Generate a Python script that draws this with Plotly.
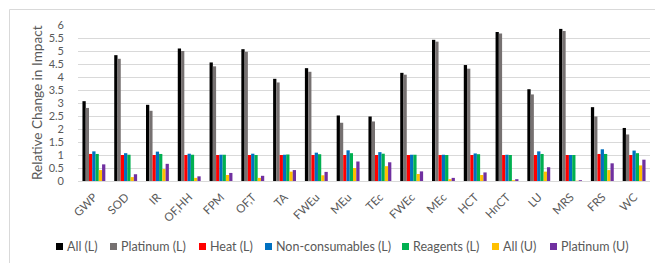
import plotly.graph_objects as go

categories = ["GWP", "SOD", "IR", "OF,HH", "FPM", "OF,T", "TA", "FWEu", "MEu", "TEc",
              "FWEc", "MEc", "HCT", "HnCT", "LU", "MRS", "FRS", "WC"]

all_L = [3.07, 4.84, 2.93, 5.10, 4.56, 5.07, 3.93, 4.34, 2.52, 2.48,
         4.16, 5.43, 4.46, 5.73, 3.53, 5.85, 2.84, 2.04]
platinum_L = [2.81, 4.70, 2.70, 5.00, 4.41, 4.97, 3.79, 4.20, 2.24, 2.29,
              4.09, 5.36, 4.32, 5.67, 3.33, 5.77, 2.48, 1.79]
heat_L = [1.04, 1.00, 1.00, 1.00, 1.00, 1.00, 1.00, 1.00, 1.00, 1.00,
          1.00, 1.00, 1.00, 1.00, 1.00, 1.00, 1.04, 1.00]
noncons_L = [1.14, 1.07, 1.13, 1.05, 1.01, 1.05, 1.01, 1.09, 1.18, 1.11,
             1.01, 1.01, 1.06, 1.01, 1.14, 1.00, 1.22, 1.17]
reagents_L = [1.04, 1.01, 1.04, 1.01, 1.01, 1.00, 1.02, 1.03, 1.07, 1.05,
              1.01, 1.00, 1.03, 1.00, 1.04, 1.00, 1.04, 1.07]
all_U = [0.42, 0.15, 0.46, 0.12, 0.23, 0.12, 0.36, 0.22, 0.50, 0.57,
         0.27, 0.07, 0.23, 0.03, 0.36, 0.01, 0.42, 0.60]
platinum_U = [0.64, 0.26, 0.66, 0.18, 0.31, 0.20, 0.42, 0.35, 0.75, 0.72,
              0.37, 0.12, 0.33, 0.07, 0.53, 0.03, 0.68, 0.82]

series_names = ["All (L)", "Platinum (L)", "Heat (L)", "Non-consumables (L)",
                "Reagents (L)", "All (U)", "Platinum (U)"]
series_values = [all_L, platinum_L, heat_L, noncons_L, reagents_L, all_U, platinum_U]
series_colors = ["#000000", "#767171", "#FF0000", "#0070C0", "#00B050", "#FFC000", "#7030A0"]

# legend layout (pixel x of each legend swatch)
legend_px = [56, 110, 199, 265, 402, 492, 550]

W, H = 655, 263
ML, MR, MT, MB = 78, 5, 25, 82
PW, PH = W - ML - MR, H - MT - MB

FONT = "Lato"
GREY = "#595959"

fig = go.Figure()
for name, vals, col in zip(series_names, series_values, series_colors):
    fig.add_trace(go.Bar(x=categories, y=vals, name=name, marker_color=col,
                         marker_line_width=0))

def px2x(px):
    return (px - ML) / PW

def py2y(py):
    return (H - MB - py) / PH

shapes = [dict(type="rect", xref="paper", yref="paper",
               x0=px2x(9.5), x1=px2x(665), y0=py2y(270), y1=py2y(9.5),
               line=dict(color="#d9d9d9", width=1), layer="below")]
annotations = [dict(text="Relative Change in Impact", xref="paper", yref="paper",
                    x=px2x(37), y=0.5, xanchor="center", yanchor="middle",
                    textangle=-90, showarrow=False,
                    font=dict(family=FONT, size=13.6, color=GREY))]
ly = 246.5
for name, col, lx in zip(series_names, series_colors, legend_px):
    shapes.append(dict(type="rect", xref="paper", yref="paper",
                       x0=px2x(lx), x1=px2x(lx + 7), y0=py2y(ly + 3.5), y1=py2y(ly - 3.5),
                       fillcolor=col, line=dict(width=0)))
    annotations.append(dict(text=name, xref="paper", yref="paper",
                            x=px2x(lx + 9), y=py2y(ly), xanchor="left", yanchor="middle",
                            showarrow=False,
                            font=dict(family=FONT, size=12.5, color=GREY)))

fig.update_layout(
    width=W, height=H,
    margin=dict(l=ML, r=MR, t=MT, b=MB, autoexpand=False),
    paper_bgcolor="white", plot_bgcolor="white",
    barmode="group", bargap=0.28, bargroupgap=0,
    font=dict(family=FONT, size=12, color=GREY),
    showlegend=False,
    shapes=shapes, annotations=annotations,
)
fig.update_xaxes(tickangle=-45, showgrid=False, showline=True, linecolor="#d9d9d9",
                 tickfont=dict(family=FONT, size=11.5, color=GREY), ticks="",
                 ticklabelstandoff=4, automargin=False)
fig.update_yaxes(range=[0, 6], dtick=0.5, showgrid=True, gridcolor="#d9d9d9",
                 zeroline=False, showline=False, ticks="",
                 tickformat="~g", ticklabelstandoff=13, automargin=False,
                 tickfont=dict(family=FONT, size=11, color=GREY))

fig.write_html("out.html", config={"displayModeBar": False, "staticPlot": True},
               post_script="document.body.style.margin='0';document.body.style.overflow='hidden';")
